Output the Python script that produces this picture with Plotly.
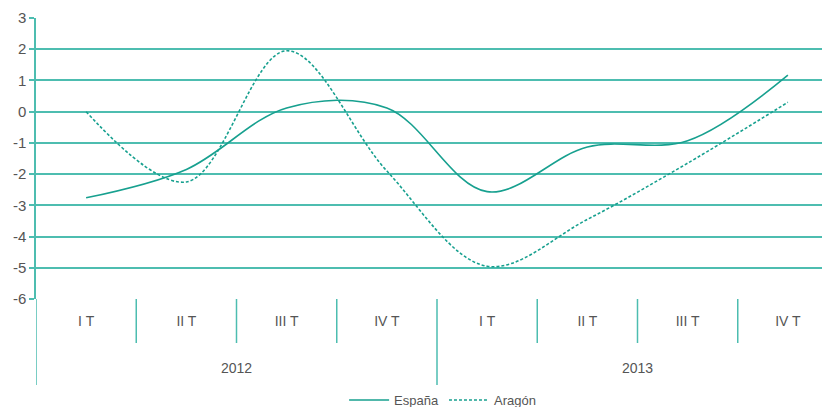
import plotly.graph_objects as go

# --- data ---
years = ["2012"] * 4 + ["2013"] * 4
quarters = ["I T", "II T", "III T", "IV T"] * 2
year_labels = ["2012", "2013"]
espana = [-2.76, -1.85, 0.12, 0.12, -2.56, -1.13, -0.93, 1.17]
aragon = [0.0, -2.25, 1.95, -1.9, -4.95, -3.45, -1.65, 0.3]
y_ticks = [3, 2, 1, 0, -1, -2, -3, -4, -5, -6]
y_ticktext = ["3", "2", "1", "0", "-1", "-2", "-3", "-4", "-5", "-6"]

teal = "#17a08f"
grid = "#4dbdb0"
txt = "#555555"

idx = list(range(len(quarters)))

fig = go.Figure()
fig.add_trace(go.Scatter(
    x=idx, y=espana, name="España", mode="lines",
    line=dict(color=teal, width=1.6, shape="spline", smoothing=1.0),
))
fig.add_trace(go.Scatter(
    x=idx, y=aragon, name="Aragón", mode="lines",
    line=dict(color=teal, width=1.6, shape="spline", smoothing=1.0, dash="3px,2px"),
))

# page body has an 8px margin, so the figure is offset by 8px
plot_h = 281
q_bottom = -44 / plot_h
y_bottom = -86 / plot_h
for i in range(len(quarters) + 1):
    outer = (i % 4 == 0)
    fig.add_shape(type="line", xref="x", yref="paper",
                  x0=i - 0.5, x1=i - 0.5, y0=0, y1=y_bottom if outer else q_bottom,
                  line=dict(color=grid, width=1.5), layer="above")

# year labels
for k, yl in enumerate(year_labels):
    fig.add_annotation(x=k * 4 + 1.5, xref="x", y=-69 / plot_h, yref="paper",
                       text=yl, showarrow=False, yanchor="middle",
                       font=dict(size=14, color=txt))

fig.update_layout(
    width=830, height=407,
    margin=dict(l=28, r=0, t=10, b=116),
    paper_bgcolor="white", plot_bgcolor="white",
    font=dict(family="Liberation Sans, Arial, sans-serif", size=14, color=txt),
    showlegend=True,
    legend=dict(orientation="h", x=0.507, xanchor="center", y=-101 / plot_h, yanchor="middle",
                font=dict(size=13, color=txt), itemwidth=40, tracegroupgap=0),
)

fig.update_xaxes(
    range=[-0.5, 7.5], tickvals=idx, ticktext=quarters,
    showgrid=False, showline=False, zeroline=False, ticks="",
    ticklabelstandoff=12, automargin=False,
    tickfont=dict(size=14, color=txt),
)
fig.update_yaxes(
    range=[-6, 3], tickvals=y_ticks, ticktext=y_ticktext,
    showgrid=True, gridcolor=grid, gridwidth=1.5,
    zeroline=False, showline=True, linecolor=grid, linewidth=1.5,
    ticks="outside", ticklen=5, tickcolor=grid, tickwidth=1.5, automargin=False,
    tickfont=dict(size=15, color=txt),
)

fig.write_html("out.html")
